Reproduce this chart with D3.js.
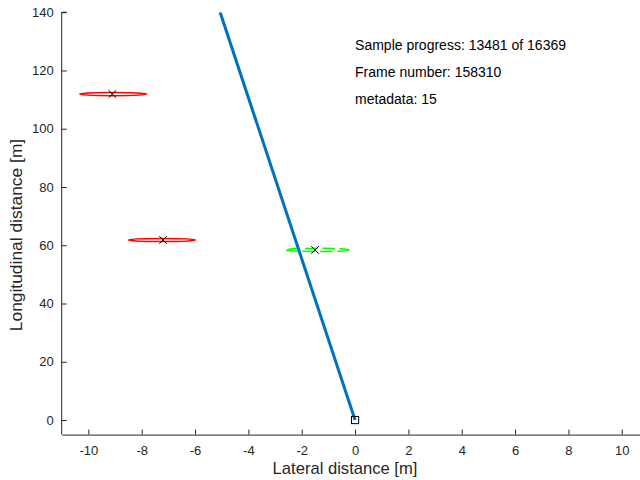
<!DOCTYPE html>
<html><head><meta charset="utf-8">
<script src="https://cdn.jsdelivr.net/npm/d3@7"></script>
<style>body{margin:0;background:#fff}svg{display:block;font-family:"Liberation Sans",Arial,Helvetica,sans-serif}</style>
</head><body>
<script>
// Data
const redCx = [-9.07, -7.24];
const redCy = [111.9, 61.8];
const redRx = [1.26, 1.26];
const greenCx = [-1.43];
const greenCy = [58.4];
const greenRx = [1.2];
const ellipseRy = 0.55;
const crossX = [-9.1, -7.2, -1.5];
const crossY = [111.9, 61.8, 58.4];
const pathX = [0, -5.06];
const pathY = [0, 140];
const originX = [0];
const originY = [0];
const xTicks = [-10, -8, -6, -4, -2, 0, 2, 4, 6, 8, 10];
const yTicks = [0, 20, 40, 60, 80, 100, 120, 140];
const infoLines = ["Sample progress: 13481 of 16369", "Frame number: 158310", "metadata: 15"];
const infoY = [127, 117.7, 108.4];

const W = 640, H = 480;
const x = d3.scaleLinear().domain([-11, 11]).range([61.7, 61.7 + 22 * 26.67]);
const y = d3.scaleLinear().domain([-5, 140]).range([434.6, 12.2]);

const svg = d3.select("body").append("svg").attr("width", W).attr("height", H);
svg.append("defs").append("clipPath").attr("id", "clip")
  .append("rect").attr("x", x(-11)).attr("y", y(140)).attr("width", x(11) - x(-11)).attr("height", y(-5) - y(140));

const plot = svg.append("g").attr("clip-path", "url(#clip)");

// red ellipses
plot.selectAll("ellipse.red").data(redCx).join("ellipse").attr("class", "red")
  .attr("cx", d => x(d)).attr("cy", (d, i) => y(redCy[i]))
  .attr("rx", (d, i) => x(redRx[i]) - x(0)).attr("ry", y(0) - y(ellipseRy))
  .attr("fill", "none").attr("stroke", "#ff0000").attr("stroke-width", 1.5);

// green dashed ellipse
plot.selectAll("ellipse.green").data(greenCx).join("ellipse").attr("class", "green")
  .attr("cx", d => x(d)).attr("cy", (d, i) => y(greenCy[i]))
  .attr("rx", (d, i) => x(greenRx[i]) - x(0)).attr("ry", y(0) - y(ellipseRy))
  .attr("fill", "none").attr("stroke", "#00ff00").attr("stroke-width", 1.5)
  .attr("stroke-dasharray", "12,5");

// path line
const line = d3.line().x(d => x(d[0])).y(d => y(d[1]));
plot.append("path").datum(pathX.map((v, i) => [v, pathY[i]]))
  .attr("d", line).attr("fill", "none").attr("stroke", "#0072BD").attr("stroke-width", 3);

// crosses
const cs = 3.8;
plot.selectAll("path.cross").data(crossX).join("path").attr("class", "cross")
  .attr("d", (d, i) => {
    const cx = x(d), cy = y(crossY[i]);
    return `M${cx - cs},${cy - cs}L${cx + cs},${cy + cs}M${cx - cs},${cy + cs}L${cx + cs},${cy - cs}`;
  })
  .attr("stroke", "#000").attr("stroke-width", 1).attr("fill", "none");

// origin square
svg.selectAll("rect.orig").data(originX).join("rect").attr("class", "orig")
  .attr("x", d => x(d) - 3.6).attr("y", (d, i) => y(originY[i]) - 3.6)
  .attr("width", 7.2).attr("height", 7.2)
  .attr("fill", "none").attr("stroke", "#000").attr("stroke-width", 1);

// axes
const axisColor = "#262626";
const fmt = d => String(d);
const gx = svg.append("g").attr("transform", `translate(0,${y(-5)})`)
  .call(d3.axisBottom(x).tickValues(xTicks).tickSizeInner(-5).tickSizeOuter(0).tickPadding(11).tickFormat(fmt));
const gy = svg.append("g").attr("transform", `translate(${x(-11)},0)`)
  .call(d3.axisLeft(y).tickValues(yTicks).tickSizeInner(-5).tickSizeOuter(0).tickPadding(8).tickFormat(fmt));
[gx, gy].forEach(g => {
  g.select(".domain").attr("stroke", axisColor).attr("stroke-width", 1);
  g.selectAll(".tick line").attr("stroke", axisColor);
  g.selectAll(".tick text").attr("fill", axisColor).attr("font-size", 13)
    .attr("font-family", '"Liberation Sans",Arial,sans-serif');
});
gy.select(".domain").attr("d", `M0,${y(-5)}V${y(140)}H5`);

// axis labels
svg.append("text").attr("x", 345).attr("y", 474).attr("text-anchor", "middle")
  .attr("font-size", 16.6).attr("fill", axisColor).text("Lateral distance [m]");
svg.append("text").attr("transform", `translate(22,235) rotate(-90)`)
  .attr("text-anchor", "middle").attr("font-size", 17.4).attr("fill", axisColor)
  .text("Longitudinal distance [m]");

// info text
svg.selectAll("text.info").data(infoLines).join("text").attr("class", "info")
  .attr("x", x(0)).attr("y", (d, i) => y(infoY[i]))
  .attr("font-size", 14).attr("fill", "#000").text(d => d);
</script>
</body></html>
